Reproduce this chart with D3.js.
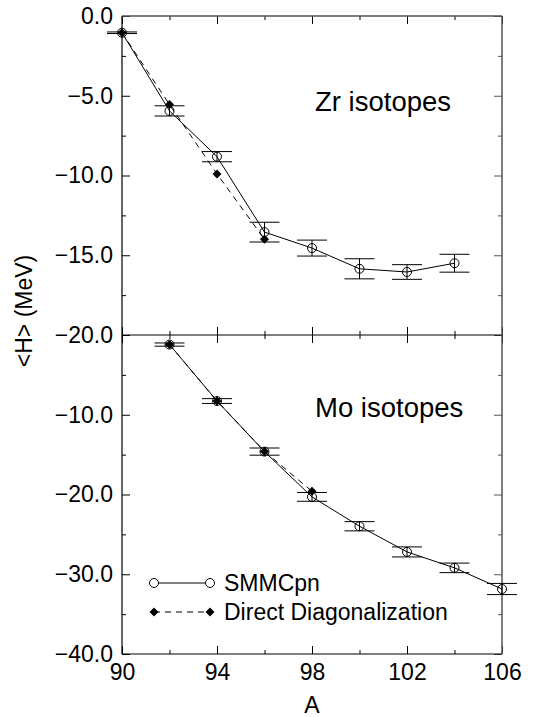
<!DOCTYPE html>
<html>
<head>
<meta charset="utf-8">
<script src="https://cdn.jsdelivr.net/npm/d3@7"></script>
<style>
  body { margin: 0; background: #fff; }
  svg text { font-family: "Liberation Sans", Arial, Helvetica, sans-serif; fill: #000; }
</style>
</head>
<body>
<div id="chart"></div>
<script>
// Zr isotopes (top panel)
const zrA = [90, 92, 94, 96, 98, 100, 102, 104];
const zrSmmc = [-1.05, -5.95, -8.82, -13.55, -14.55, -15.85, -16.05, -15.5];
const zrSmmcErr = [0.05, 0.32, 0.32, 0.62, 0.5, 0.63, 0.46, 0.56];
const zrDiagA = [90, 92, 94, 96];
const zrDiag = [-1.05, -5.55, -9.9, -14.0];

// Mo isotopes (bottom panel)
const moA = [92, 94, 96, 98, 100, 102, 104, 106];
const moSmmc = [-1.2, -8.28, -14.62, -20.3, -23.98, -27.2, -29.2, -31.85];
const moSmmcErr = [0.2, 0.3, 0.45, 0.55, 0.58, 0.63, 0.6, 0.7];
const moDiagA = [92, 94, 96, 98];
const moDiag = [-1.2, -8.28, -14.6, -19.6];

// ticks
const xMajor = [90, 94, 98, 102, 106];
const xMinor = [92, 96, 100, 104];
const zrTicks = [0, -5, -10, -15, -20];
const zrMinor = [-2.5, -7.5, -12.5, -17.5];
const moTicks = [-10, -20, -30, -40];
const moMinor = [-5, -15, -25, -35];

const panelLabels = ["Zr isotopes", "Mo isotopes"];
const legendLabels = ["SMMCpn", "Direct Diagonalization"];

const W = 533, H = 717;
const margin = { top: 16, right: 31, bottom: 63, left: 122 };
const plotW = W - margin.left - margin.right;
const plotH = H - margin.top - margin.bottom;
const midY = margin.top + plotH / 2;

const svg = d3.select('#chart').append('svg')
  .attr('width', W).attr('height', H);

const x = d3.scaleLinear().domain([90, 106]).range([margin.left, margin.left + plotW]);
const yZr = d3.scaleLinear().domain([-20, 0]).range([midY, margin.top]);
const yMo = d3.scaleLinear().domain([-40, 0]).range([margin.top + plotH, midY]);

const fmt = d3.format('.1f');
const tickFont = 23;

// axes helper
function addAxis(axisFn, scale, ticks, size, transform, labels, color) {
  const ax = axisFn(scale).tickValues(ticks).tickSizeInner(size).tickSizeOuter(0)
    .tickFormat(labels ? labels : '');
  const g = svg.append('g').attr('transform', transform).call(ax);
  g.select('.domain').remove();
  g.selectAll('.tick line').attr('stroke', color || '#000');
  g.selectAll('.tick text').style('font-size', tickFont + 'px');
  return g;
}

const xL = margin.left, xR = margin.left + plotW;
const yT = margin.top, yB = margin.top + plotH;

// left axes
addAxis(d3.axisLeft, yZr, zrTicks, -8, `translate(${xL},0)`, fmt)
  .selectAll('.tick text').attr('x', -9);
addAxis(d3.axisLeft, yZr, zrMinor, -4, `translate(${xL},0)`);
addAxis(d3.axisLeft, yMo, moTicks, -8, `translate(${xL},0)`, fmt)
  .selectAll('.tick text').attr('x', -9);
addAxis(d3.axisLeft, yMo, moMinor, -4, `translate(${xL},0)`);

// right axes
addAxis(d3.axisRight, yZr, zrTicks, -8, `translate(${xR},0)`, null, '#555');
addAxis(d3.axisRight, yZr, zrMinor, -4, `translate(${xR},0)`, null, '#555');
addAxis(d3.axisRight, yMo, moTicks, -8, `translate(${xR},0)`, null, '#555');
addAxis(d3.axisRight, yMo, moMinor, -4, `translate(${xR},0)`, null, '#555');

// top, middle, bottom x axes
addAxis(d3.axisTop, x, xMajor, -8, `translate(0,${yT})`);
addAxis(d3.axisTop, x, xMinor, -4, `translate(0,${yT})`);
addAxis(d3.axisBottom, x, xMajor, -8, `translate(0,${midY})`);
addAxis(d3.axisBottom, x, xMinor, -4, `translate(0,${midY})`);
addAxis(d3.axisTop, x, xMajor, -8, `translate(0,${midY})`);
addAxis(d3.axisTop, x, xMinor, -4, `translate(0,${midY})`);
addAxis(d3.axisBottom, x, xMajor, -8, `translate(0,${yB})`, d3.format('d'))
  .selectAll('.tick text').attr('y', 10);
addAxis(d3.axisBottom, x, xMinor, -4, `translate(0,${yB})`);

// frame
const frame = svg.append('g').attr('fill', 'none');
frame.append('line').attr('x1', xL).attr('x2', xL).attr('y1', yT).attr('y2', yB)
  .attr('stroke', '#000').attr('stroke-width', 1.2);
frame.append('line').attr('x1', xL).attr('x2', xR).attr('y1', yB).attr('y2', yB)
  .attr('stroke', '#000').attr('stroke-width', 1.2);
frame.append('line').attr('x1', xL).attr('x2', xR).attr('y1', midY).attr('y2', midY)
  .attr('stroke', '#000').attr('stroke-width', 1.2);
frame.append('line').attr('x1', xL).attr('x2', xR).attr('y1', yT).attr('y2', yT)
  .attr('stroke', '#555').attr('stroke-width', 1.3);
frame.append('line').attr('x1', xR).attr('x2', xR).attr('y1', yT).attr('y2', yB)
  .attr('stroke', '#555').attr('stroke-width', 1.5);

// series drawing
const capHalf = 15;
const diamond = d3.symbol().type(d3.symbolSquare).size(40);

function drawSeries(y, aS, vS, eS, aD, vD) {
  const smmc = aS.map((a, i) => ({ a: a, v: vS[i], e: eS[i] }));
  const diag = aD.map((a, i) => ({ a: a, v: vD[i] }));
  const g = svg.append('g');

  // error bars
  const eb = g.append('g').attr('stroke', '#000').attr('stroke-width', 1);
  eb.selectAll('.vbar').data(smmc).join('line').attr('class', 'vbar')
    .attr('x1', d => x(d.a)).attr('x2', d => x(d.a))
    .attr('y1', d => y(d.v + d.e)).attr('y2', d => y(d.v - d.e));
  eb.selectAll('.capT').data(smmc).join('line').attr('class', 'capT')
    .attr('x1', d => x(d.a) - capHalf).attr('x2', d => x(d.a) + capHalf)
    .attr('y1', d => y(d.v + d.e)).attr('y2', d => y(d.v + d.e));
  eb.selectAll('.capB').data(smmc).join('line').attr('class', 'capB')
    .attr('x1', d => x(d.a) - capHalf).attr('x2', d => x(d.a) + capHalf)
    .attr('y1', d => y(d.v - d.e)).attr('y2', d => y(d.v - d.e));

  const line = d3.line().x(d => x(d.a)).y(d => y(d.v));
  g.append('path').datum(smmc).attr('d', line)
    .attr('fill', 'none').attr('stroke', '#000').attr('stroke-width', 1);
  g.append('path').datum(diag).attr('d', line)
    .attr('fill', 'none').attr('stroke', '#000').attr('stroke-width', 1)
    .attr('stroke-dasharray', '6,5');

  g.selectAll('circle').data(smmc).join('circle')
    .attr('cx', d => x(d.a)).attr('cy', d => y(d.v)).attr('r', 4.5)
    .attr('fill', 'none').attr('stroke', '#000').attr('stroke-width', 1);
  g.selectAll('.dia').data(diag).join('path').attr('class', 'dia')
    .attr('d', diamond)
    .attr('transform', d => `translate(${x(d.a)},${y(d.v)}) rotate(45)`)
    .attr('fill', '#000');
}

drawSeries(yZr, zrA, zrSmmc, zrSmmcErr, zrDiagA, zrDiag);
drawSeries(yMo, moA, moSmmc, moSmmcErr, moDiagA, moDiag);

// panel labels
svg.append('text').attr('x', 315).attr('y', 111)
  .style('font-size', '27.5px').text(panelLabels[0]);
svg.append('text').attr('x', 315).attr('y', 417)
  .style('font-size', '27.5px').text(panelLabels[1]);

// legend
const leg = svg.append('g');
const lx1 = 154, lx2 = 210;
leg.append('line').attr('x1', lx1).attr('x2', lx2).attr('y1', 583).attr('y2', 583)
  .attr('stroke', '#000');
leg.selectAll('circle').data([lx1, lx2]).join('circle')
  .attr('cx', d => d).attr('cy', 583).attr('r', 4.5)
  .attr('fill', '#fff').attr('stroke', '#000');
leg.append('line').attr('x1', lx1).attr('x2', lx2).attr('y1', 612).attr('y2', 612)
  .attr('stroke', '#000').attr('stroke-dasharray', '6,5');
leg.selectAll('.dia').data([lx1, lx2]).join('path').attr('class', 'dia')
  .attr('d', diamond)
  .attr('transform', d => `translate(${d},612) rotate(45)`)
  .attr('fill', '#000');
leg.selectAll('text').data(legendLabels).join('text')
  .attr('x', 224).attr('y', (d, i) => 591 + i * 29)
  .style('font-size', tickFont + 'px').text(d => d);

// axis titles
svg.append('text').attr('x', (xL + xR) / 2).attr('y', 713)
  .attr('text-anchor', 'middle').style('font-size', tickFont + 'px').text('A');
svg.append('text').attr('transform', 'translate(32,311) rotate(-90)')
  .attr('text-anchor', 'middle').style('font-size', tickFont + 'px').text('<H> (MeV)');
</script>
</body>
</html>
